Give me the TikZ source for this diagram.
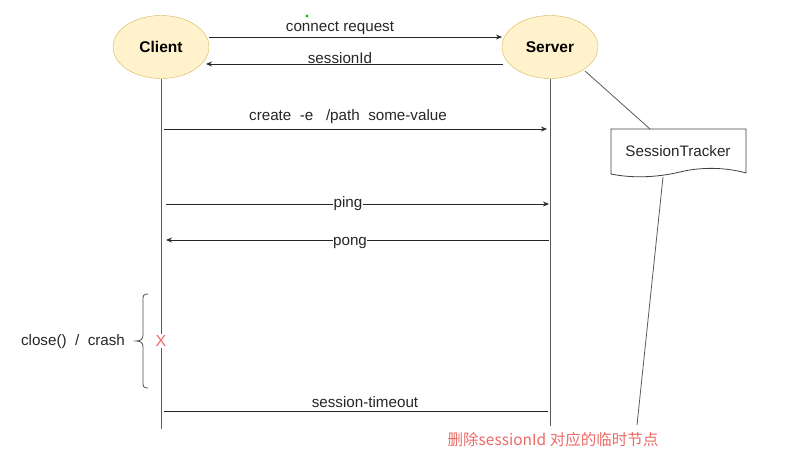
\documentclass[tikz,border=0pt]{standalone}
\usepackage{fontspec}
\setmainfont{Liberation Sans}
\newfontfamily\cjk{Noto Sans CJK SC}
\usetikzlibrary{arrows.meta,shapes.geometric}
\definecolor{actfill}{HTML}{FFF2CC}
\definecolor{actdraw}{HTML}{D6B656}
\definecolor{redtxt}{HTML}{EA6B66}
\definecolor{ln}{HTML}{5A5A5A}
\tikzset{
  actor/.style={ellipse, draw=actdraw, fill=actfill, minimum width=96pt, minimum height=63pt, inner sep=0pt, font=\fontsize{15.5}{17}\selectfont\bfseries},
  life/.style={draw=ln, line width=0.9pt},
  msg/.style={draw=black!85, line width=0.8pt, -{Stealth[length=6pt,width=5pt]}},
  plain/.style={draw=black!85, line width=0.8pt},
  lbl/.style={font=\fontsize{15.2}{17}\selectfont, text=black!85, inner sep=0pt},
  onl/.style={lbl, fill=white, inner sep=0.3pt},
}
\begin{document}
\begin{tikzpicture}[x=1pt,y=-1pt]
\useasboundingbox (0,0) rectangle (789,457);
% actors
\node[actor] (client) at (161,47) {Client};
\node[actor] (server) at (550,47) {Server};
% stray dot
\fill[green!80!black] (307,16) circle (1.6pt);
% lifelines
\coordinate (cbot) at (161,429);
\coordinate (sbot) at (550,426);
\node[text=redtxt, font=\fontsize{16}{18}\selectfont, inner sep=1pt] (x) at (161,341) {X};
\draw[life] (client.south) -- (x.north);
\draw[life] (x.south) -- (cbot);
\draw[life] (server.south) -- (sbot);
% messages
\coordinate (c0) at (209,37); \coordinate (s0) at (502,37);
\coordinate (c5) at (206,64); \coordinate (s5) at (503,64);
\coordinate (c1) at (164,129); \coordinate (s1) at (547,129);
\coordinate (c2) at (166,204); \coordinate (s2) at (549,204);
\coordinate (c3) at (166,240); \coordinate (s3) at (549,240);
\coordinate (c4) at (164,411); \coordinate (s4) at (548,411);
\draw[msg] (c0) -- (s0);
\draw[msg] (s5) -- (c5);
\node[lbl] (l1) at (340,28) {connect request};
\node[lbl] (l2) at (340,58) {sessionId};
\draw[msg] (c1) -- (s1);
\node[lbl] (l3) at (348,117) {create\ \ -e\ \ \ /path\ \ some-value};
\draw[msg] (c2) -- (s2);
\node[onl] (l4) at (348,204) {ping};
\draw[msg] (s3) -- (c3);
\node[onl] (l5) at (350,243) {pong};
\draw[plain] (c4) -- (s4);
\node[lbl] (l6) at (365,402) {session-timeout};
% brace
\draw[draw=black!70, line width=0.8pt] (148,294) .. controls (143,294) and (143,296) .. (143,300)
  -- (143,335) .. controls (143,339) and (141,341) .. (136,341)
  .. controls (141,341) and (143,343) .. (143,347)
  -- (143,382) .. controls (143,386) and (143,388) .. (148,388);
\node[lbl] (l7) at (73,342) {close()\ \ /\ \ crash};
% session tracker
\draw[draw=black!75, fill=white, line width=0.8pt] (611,129) -- (746,129) -- (746,173)
  .. controls (725,167) and (700,167) .. (680,172)
  .. controls (655,178) and (630,178) .. (611,174) -- cycle;
\node[lbl] (st) at (678,151) {SessionTracker};
\coordinate (sa) at (585,71);
\coordinate (trk) at (650,129);
\coordinate (tb) at (663,177);
\coordinate (te) at (637,425);
\draw[draw=ln, line width=0.8pt] (sa) -- (trk);
\draw[draw=ln, line width=0.8pt] (tb) -- (te);
\node[text=redtxt, font=\cjk\fontsize{15.5}{17}\selectfont, inner sep=0pt] (note) at (553,440) {删除sessionId 对应的临时节点};
\end{tikzpicture}
\end{document}
